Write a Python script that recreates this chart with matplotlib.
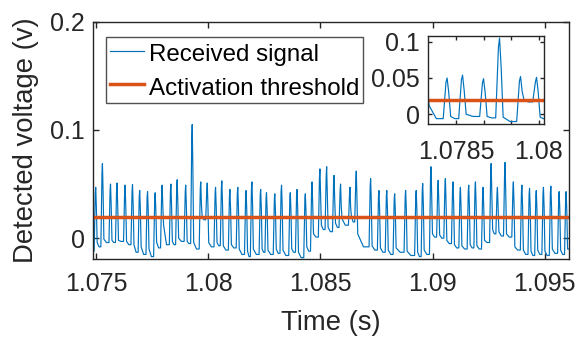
import matplotlib
matplotlib.use('Agg')
import matplotlib.pyplot as plt

plt.rcParams['font.family'] = ['Liberation Sans', 'DejaVu Sans']

# pulse peaks: time (s), voltage (V)
peak_t = [1.07499, 1.07529, 1.07565, 1.07594, 1.07630, 1.07663, 1.07695, 1.07730,
          1.07764, 1.07795, 1.07834, 1.07862, 1.07900, 1.07929, 1.07967, 1.07996,
          1.08033, 1.08061, 1.08097, 1.08132, 1.08169, 1.08195, 1.08234, 1.08260,
          1.08297, 1.08327, 1.08366, 1.08396, 1.08433, 1.08463, 1.08498, 1.08528,
          1.08561, 1.08590, 1.08632, 1.08660, 1.08724, 1.08761, 1.08796, 1.08831,
          1.08880, 1.08927, 1.08956, 1.08993, 1.09025, 1.09057, 1.09091, 1.09124,
          1.09161, 1.09191, 1.09225, 1.09261, 1.09289, 1.09323, 1.09360, 1.09398,
          1.09432, 1.09462, 1.09494, 1.09527, 1.09564, 1.09595]
peak_v = [0.047, 0.069, 0.050, 0.051, 0.049, 0.0495, 0.044, 0.043,
          0.042, 0.049, 0.050, 0.054, 0.049, 0.105, 0.052, 0.051,
          0.047, 0.053, 0.045, 0.047, 0.044, 0.052, 0.045, 0.042,
          0.041, 0.049, 0.042, 0.045, 0.041, 0.052, 0.064, 0.066,
          0.058, 0.050, 0.047, 0.062, 0.055, 0.044, 0.044, 0.041,
          0.044, 0.044, 0.0505, 0.066, 0.0535, 0.055, 0.052, 0.047,
          0.049, 0.052, 0.047, 0.069, 0.047, 0.070, 0.052, 0.049,
          0.046, 0.044, 0.047, 0.048, 0.043, 0.043]
# level just after each pulse, and the trough before the next one
fall_v = [-0.004, -0.001, -0.002, -0.002, -0.003, -0.006, -0.008, -0.010,
          -0.004, 0.012, -0.003, 0.000, -0.003, -0.004, 0.019, -0.004,
          -0.004, -0.007, -0.006, -0.010, -0.012, -0.010, -0.010, -0.011,
          -0.010, -0.011, -0.010, -0.013, -0.008, 0.004, 0.012, 0.010,
          0.014, 0.018, 0.020, 0.004, -0.007, -0.009, -0.011, -0.009,
          -0.012, -0.013, -0.011, 0.004, 0.003, -0.002, -0.006, -0.007,
          -0.006, -0.007, -0.002, 0.008, 0.006, 0.004, -0.008, -0.011,
          -0.012, -0.011, -0.012, -0.010, -0.011, -0.008]
low_v = [-0.008, -0.004, -0.004, -0.003, -0.006, -0.013, -0.015, -0.017,
         -0.009, -0.006, -0.006, -0.003, -0.005, -0.010, 0.017, -0.008,
         -0.007, -0.011, -0.009, -0.015, -0.017, -0.015, -0.013, -0.015,
         -0.014, -0.016, -0.013, -0.018, -0.012, 0.001, 0.008, 0.006,
         0.010, 0.012, 0.015, -0.008, -0.011, -0.013, -0.015, -0.013,
         -0.016, -0.017, -0.015, 0.001, 0.000, -0.005, -0.009, -0.010,
         -0.009, -0.010, -0.004, 0.004, 0.002, 0.001, -0.011, -0.015,
         -0.016, -0.015, -0.016, -0.014, -0.015, -0.010]
t_start, v_start = 1.07487, -0.012
t_end = 1.09608
threshold = 0.02

xticks = [1.075, 1.08, 1.085, 1.09, 1.095]
xtick_labels = ['1.075', '1.08', '1.085', '1.09', '1.095']
yticks = [0, 0.1, 0.2]
ytick_labels = ['0', '0.1', '0.2']
inset_xticks = [1.0785, 1.079, 1.0795, 1.08]
inset_xtick_labels = ['1.0785', '', '', '1.08']
inset_yticks = [0, 0.05, 0.1]
inset_ytick_labels = ['0', '0.05', '0.1']

# polyline through the read points (rounded pulse tops)
t, v = [t_start], [v_start]
prev_low = v_start
for i, (tp, vp) in enumerate(zip(peak_t, peak_v)):
    nxt = peak_t[i + 1] if i + 1 < len(peak_t) else t_end
    t += [tp - 7e-5, tp - 2e-5, tp, tp + 3e-5, tp + 6.5e-5, (tp + nxt) / 2]
    v += [prev_low, 0.88 * vp, vp, 0.6 * vp, fall_v[i], low_v[i]]
    prev_low = low_v[i]
t.append(t_end)
v.append(prev_low)

blue = '#0072BD'
orange = '#D95319'
dark = '#262626'

fig = plt.figure(figsize=(5.77, 3.41), dpi=100)
ax = fig.add_axes([0.1612, 0.2396, 0.8250, 0.6968])
ax.plot(t, v, color=blue, lw=0.85, label='Received signal')
ax.axhline(threshold, color=orange, lw=2.5, label='Activation threshold')
ax.set_xlim(t_start, t_end)
ax.set_ylim(-0.0195, 0.199)
ax.set_xticks(xticks)
ax.set_xticklabels(xtick_labels)
ax.set_yticks(yticks)
ax.set_yticklabels(ytick_labels)
ax.tick_params(direction='in', top=True, right=True, length=4, width=1,
               labelsize=18, colors=dark)
ax.tick_params(axis='x', pad=9)
ax.tick_params(axis='y', pad=6)
for s in ax.spines.values():
    s.set_linewidth(1)
    s.set_color(dark)
ax.set_xlabel('Time (s)', fontsize=19.8, color=dark, labelpad=10)
ax.set_ylabel('Detected voltage (v)', fontsize=19.8, color=dark, labelpad=8)

leg = ax.legend(loc='upper left', bbox_to_anchor=(0.1837, 0.8924),
                bbox_transform=fig.transFigure, fontsize=17.4, frameon=True,
                fancybox=False, edgecolor=dark, handlelength=1.4,
                handleheight=1.25, handletextpad=0.2, borderpad=0.16,
                labelspacing=0.3, borderaxespad=0)
leg.get_frame().set_linewidth(1)

ins = fig.add_axes([0.7423, 0.6355, 0.2010, 0.2589])
ins.plot(t, v, color=blue, lw=0.85)
ins.axhline(threshold, color=orange, lw=2.5)
ins.set_xlim(1.0780, 1.0801)
ins.set_ylim(-0.0138, 0.1078)
ins.set_xticks(inset_xticks)
ins.set_xticklabels(inset_xtick_labels)
ins.set_yticks(inset_yticks)
ins.set_yticklabels(inset_ytick_labels)
ins.tick_params(direction='in', top=True, right=True, length=3, width=1,
                labelsize=18, colors=dark)
ins.tick_params(axis='x', pad=11)
ins.tick_params(axis='y', pad=6)
for s in ins.spines.values():
    s.set_linewidth(1)
    s.set_color(dark)

fig.savefig('out.png', dpi=100, facecolor='white')
